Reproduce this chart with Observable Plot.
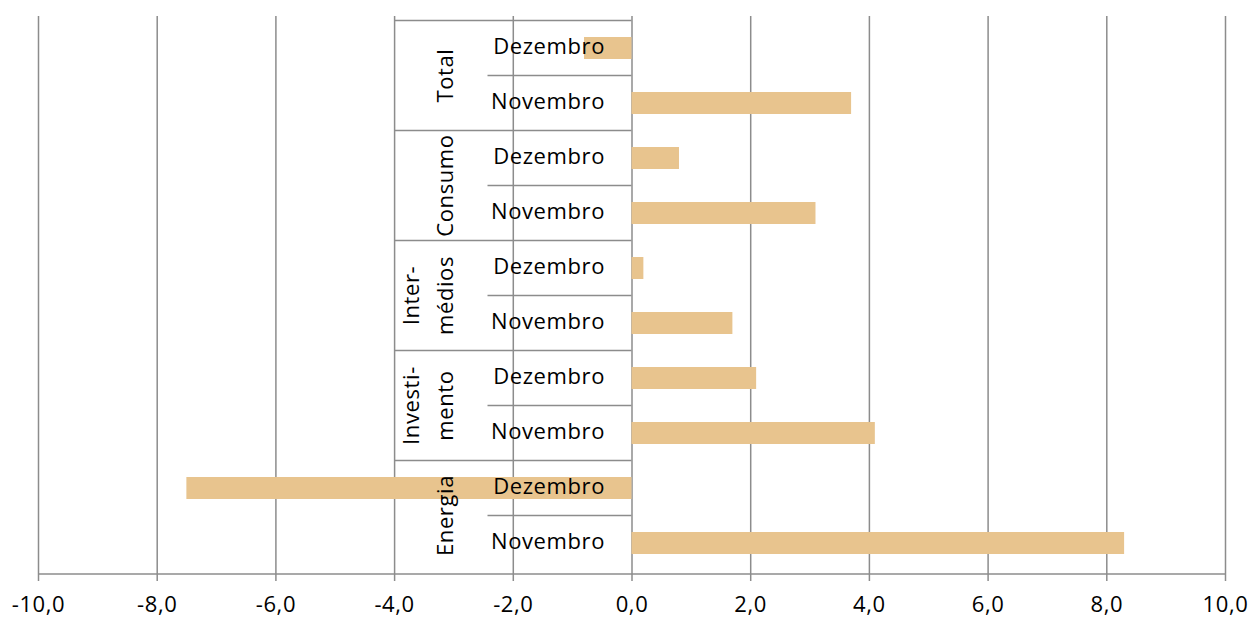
<!DOCTYPE html>
<html><head><meta charset="utf-8">
<script src="https://cdn.jsdelivr.net/npm/d3@7"></script>
<script src="https://cdn.jsdelivr.net/npm/@observablehq/plot@0.6"></script>
<style>body{margin:0;background:#fff}</style>
</head><body><div id="chart"></div>
<script>
const groups = ["Total", "Consumo", "Intermédios", "Investimento", "Energia"];
const groupLabels = [["Total"], ["Consumo"], ["Inter-", "médios"], ["Investi-", "mento"], ["Energia"]];
const months = ["Dezembro", "Novembro"];
const dezembro = [-0.8, 0.8, 0.2, 2.1, -7.5];
const novembro = [3.7, 3.1, 1.7, 4.1, 8.3];
const xTicks = [-10, -8, -6, -4, -2, 0, 2, 4, 6, 8, 10];

const rows = groups.flatMap((g, i) => [
  {group: g, month: months[0], key: g + "|" + months[0], value: dezembro[i]},
  {group: g, month: months[1], key: g + "|" + months[1], value: novembro[i]}
]);

const GRID = "#8c8c8c";
const FONT = "Open Sans";
const fmt = d => d.toFixed(1).replace(".", ",");

const plot = Plot.plot({
  width: 1252, height: 617,
  marginLeft: 38, marginRight: 27, marginTop: 16, marginBottom: 43,
  style: {fontFamily: FONT, fontSize: "22px", color: "#000", background: "#fff", overflow: "visible", letterSpacing: "0.6px"},
  x: {domain: [-10, 10], ticks: xTicks, label: null},
  y: {domain: rows.map(d => d.key), paddingInner: 0.6, paddingOuter: 0.3, axis: null},
  marks: [
    Plot.gridX(xTicks, {stroke: GRID, strokeOpacity: 1, strokeWidth: 1.5}),
    Plot.barX(rows, {x: "value", y: "key", fill: "#e8c48e"}),
    Plot.axisX(xTicks, {tickSize: 7, tickPadding: 15, stroke: GRID, strokeOpacity: 1, strokeWidth: 1.5, fill: "#000", fontSize: 22, tickFormat: fmt, label: null}),
    Plot.text(rows, {x: 0, y: "key", text: "month", textAnchor: "end", dx: -27, dy: -2, fontSize: 22, fill: "#000"})
  ]
});

document.getElementById("chart").appendChild(plot);

const svg = d3.select(plot);
const xs = plot.scale("x"), ys = plot.scale("y");
const half = (ys.step - ys.bandwidth) / 2;
const x0 = xs.apply(0);
const ov = svg.append("g");
// bottom axis line
const yBottom = 617 - 43;
ov.append("line").attr("x1", xs.apply(-10)).attr("x2", xs.apply(10)).attr("y1", yBottom).attr("y2", yBottom)
  .attr("stroke", GRID).attr("stroke-width", 1.5);
groups.forEach((g, i) => {
  const top = ys.apply(g + "|" + months[0]) - half;
  const mid = ys.apply(g + "|" + months[1]) - half;
  ov.append("line").attr("x1", x0 - 237).attr("x2", x0).attr("y1", top).attr("y2", top)
    .attr("stroke", GRID).attr("stroke-width", 1.5);
  ov.append("line").attr("x1", x0 - 144).attr("x2", x0).attr("y1", mid).attr("y2", mid)
    .attr("stroke", GRID).attr("stroke-width", 1.5);
  const lines = groupLabels[i];
  const n = lines.length;
  lines.forEach((t, j) => {
    const lx = x0 - 186 - (n - 1 - j) * 34;
    ov.append("text").attr("transform", `translate(${lx},${mid}) rotate(-90)`)
      .attr("text-anchor", "middle").attr("dy", "0.35em")
      .attr("font-family", FONT).attr("font-size", 22).attr("fill", "#000").text(t);
  });
});
</script></body></html>
